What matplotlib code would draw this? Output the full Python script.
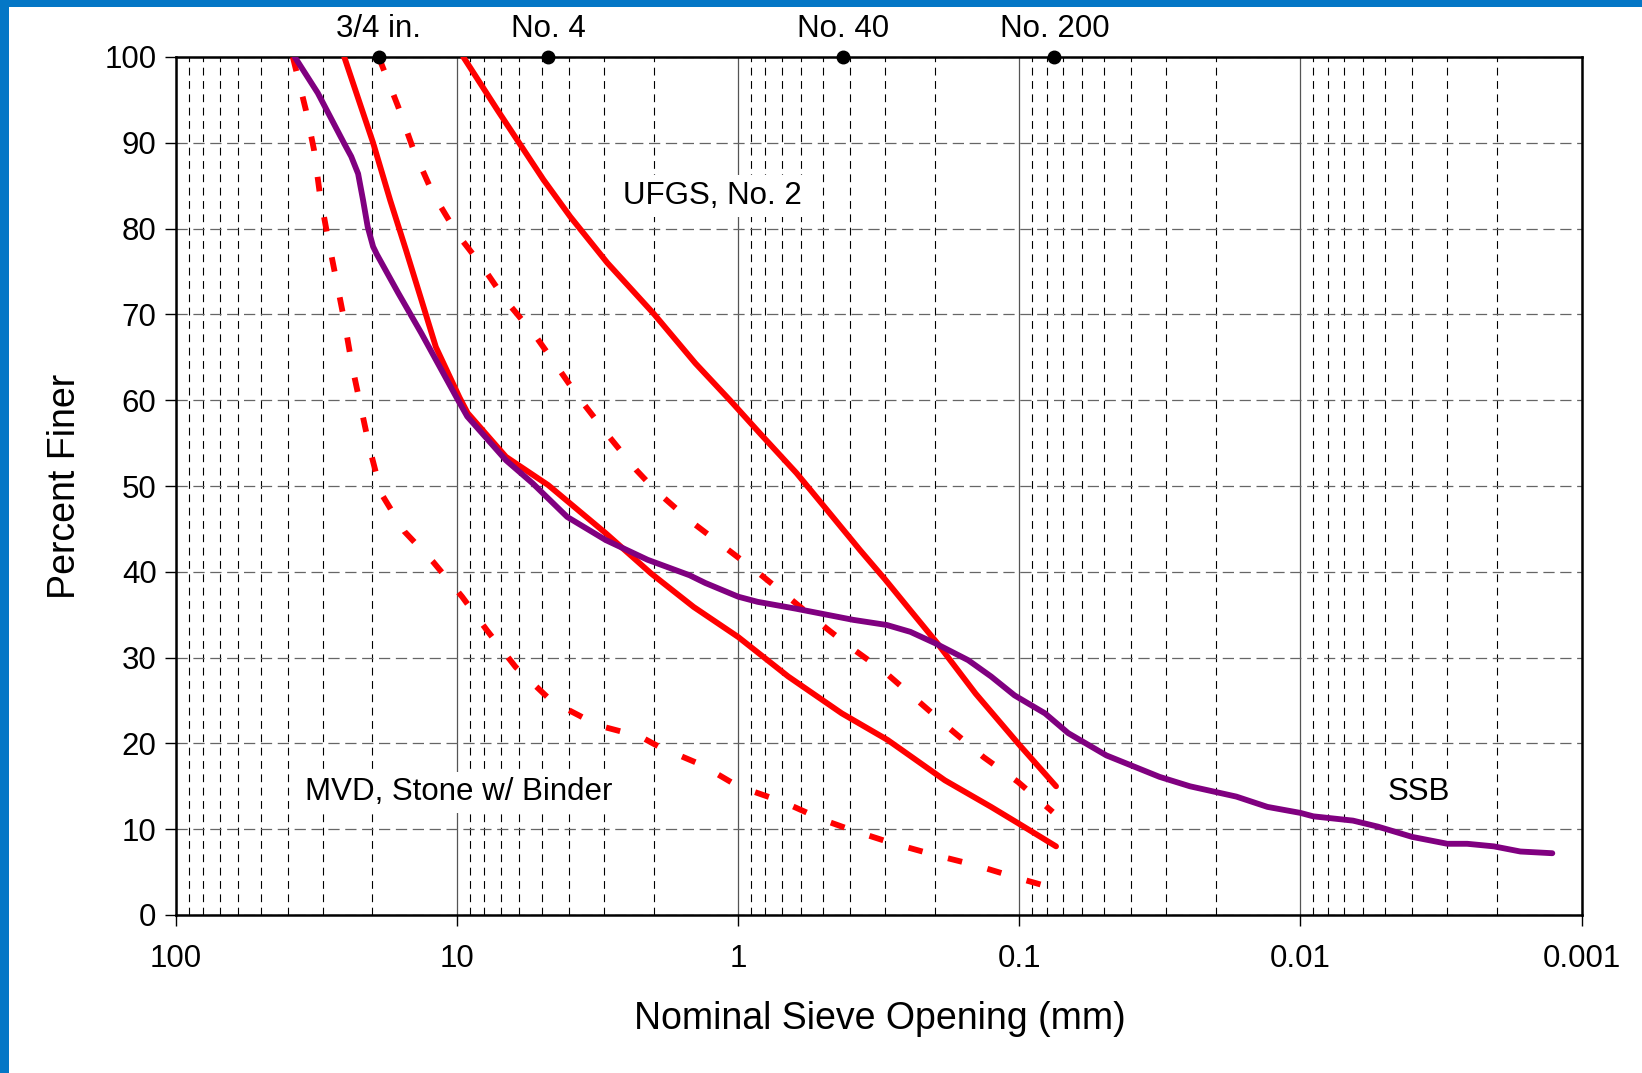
import matplotlib
matplotlib.use("Agg")
import matplotlib.pyplot as plt
from matplotlib.ticker import FixedLocator, FixedFormatter, NullFormatter
from matplotlib.patches import Rectangle

plt.rcParams['font.family'] = ['Liberation Sans', 'DejaVu Sans']

# ---------------- data ----------------
ssb_size = [37.8, 31.3, 25.2, 23.8, 22.5, 21.6, 20.8, 19.9, 19.3, 16.2, 13.4, 10.0, 9.2, 6.7, 5.38, 4.06,
            2.96, 2.1, 1.49, 1.31, 1.0, 0.853, 0.623, 0.39, 0.296, 0.244, 0.2, 0.152,
            0.126, 0.104, 0.081, 0.067, 0.049, 0.0317, 0.0247, 0.0169, 0.0131, 0.01,
            0.009, 0.0065, 0.0053, 0.0040, 0.0030, 0.00255, 0.00205, 0.00165, 0.00127]
ssb_pct = [100, 95.8, 89.9, 88.4, 86.4, 83.3, 80.2, 77.9, 77.0, 72.5, 67.8, 60.2, 58.1, 53.0, 50.3, 46.4,
           43.7, 41.4, 39.6, 38.7, 37.1, 36.5, 35.7, 34.4, 33.8, 33.0, 31.7, 29.7,
           27.8, 25.6, 23.5, 21.2, 18.6, 16.1, 15.0, 13.8, 12.6, 11.9,
           11.5, 11.0, 10.3, 9.1, 8.3, 8.3, 8.0, 7.4, 7.2]

ufgs_fine_size = [9.5, 7.18, 4.93, 3.96, 2.92, 2.0, 1.42, 1.07, 0.835, 0.62, 0.483, 0.368,
                  0.30, 0.244, 0.196, 0.143, 0.101, 0.074]
ufgs_fine_pct = [100, 93.8, 85.7, 81.4, 76.0, 70.1, 64.3, 60.0, 56.1, 51.5, 47.2, 42.5,
                 39.1, 35.5, 31.7, 25.8, 20.0, 15.0]

ufgs_coarse_size = [25.2, 19.9, 17.3, 15.2, 13.4, 11.9, 9.8, 9.17, 6.7, 4.74, 2.96, 2.04,
                    1.44, 1.0, 0.664, 0.428, 0.294, 0.184, 0.126, 0.101, 0.074]
ufgs_coarse_pct = [100, 90, 83.3, 77.5, 71.7, 66.2, 60.3, 58.5, 53.4, 50.1, 44.5, 39.8,
                   35.9, 32.4, 27.8, 23.5, 20.4, 15.7, 12.6, 10.7, 8.0]

mvd_fine_size = [19.0, 16.2, 14.3, 12.2, 10.0, 8.13, 6.74, 5.24, 4.49, 3.71, 2.87, 2.31,
                 1.97, 1.49, 1.12, 0.827, 0.644, 0.485, 0.402, 0.303, 0.232, 0.178,
                 0.134, 0.101, 0.076]
mvd_fine_pct = [100, 94.2, 89.2, 84.1, 79.4, 75.6, 71.7, 67.4, 64.3, 60.4, 55.7, 51.9,
                49.5, 46.0, 42.9, 39.6, 36.7, 33.4, 31.3, 28.4, 25.1, 21.8,
                18.4, 15.5, 12.0]

mvd_coarse_size = [38.4, 34.5, 32.3, 30.8, 29.0, 27.2, 25.2, 23.6, 22.0, 20.4, 18.6, 15.4,
                   12.2, 9.6, 7.84, 6.19, 4.6, 3.15, 2.23, 1.91, 1.35, 1.0, 0.695, 0.5,
                   0.395, 0.285, 0.2, 0.143, 0.101, 0.075]
mvd_coarse_pct = [100, 93.8, 89.2, 84.1, 79.4, 74.8, 69.3, 63.9, 59.2, 54.2, 49.1, 44.7,
                  41.2, 37.1, 33.2, 28.9, 24.9, 22.1, 20.8, 19.6, 17.5, 15.0, 13.2, 11.1,
                  9.9, 8.4, 7.0, 5.8, 4.3, 3.1]

sieve_names = ["3/4 in.", "No. 4", "No. 40", "No. 200"]
sieve_sizes = [19.0, 4.75, 0.425, 0.075]

x_ticks = [100, 10, 1, 0.1, 0.01, 0.001]
x_tick_labels = ["100", "10", "1", "0.1", "0.01", "0.001"]
y_ticks = [0, 10, 20, 30, 40, 50, 60, 70, 80, 90, 100]

# ---------------- figure ----------------
W, H = 1642, 1073
fig = plt.figure(figsize=(W / 100, H / 100), dpi=100)
fig.patch.set_facecolor("white")

# blue frame (left and top)
blue = "#0477C6"
fig.patches.append(Rectangle((0, 0), 9 / W, 1, transform=fig.transFigure,
                             facecolor=blue, edgecolor="none", zorder=0))
fig.patches.append(Rectangle((0, 1 - 7 / H), 1, 7 / H, transform=fig.transFigure,
                             facecolor=blue, edgecolor="none", zorder=0))

left, right, top, bottom = 176, 1581.5, 57, 915
ax = fig.add_axes([left / W, 1 - bottom / H, (right - left) / W, (bottom - top) / H])

ax.set_xscale("log")
ax.set_xlim(100, 0.001)
ax.set_ylim(0, 100)

# ticks
ax.xaxis.set_major_locator(FixedLocator(x_ticks))
ax.xaxis.set_major_formatter(FixedFormatter(x_tick_labels))
minor = [m * 10.0 ** e for e in range(-3, 2) for m in range(2, 10)]
ax.xaxis.set_minor_locator(FixedLocator(minor))
ax.xaxis.set_minor_formatter(NullFormatter())
ax.yaxis.set_major_locator(FixedLocator(y_ticks))

ax.tick_params(axis="x", which="major", direction="out", length=8, width=1.0,
               labelsize=22.5, pad=13, top=False)
ax.tick_params(axis="x", which="minor", length=0)
ax.tick_params(axis="y", which="major", direction="out", length=8, width=1.0,
               labelsize=22.5, pad=6, right=False)

for s in ax.spines.values():
    s.set_linewidth(1.8)
    s.set_color("black")

# grid
ax.set_axisbelow(True)
ax.grid(True, which="major", axis="x", color="#555555", lw=0.9, ls="-")
ax.grid(True, which="minor", axis="x", color="black", lw=0.8, ls=(0, (7, 5)))
ax.grid(True, which="major", axis="y", color="#666666", lw=0.9, ls=(0, (9, 4.5)))

# curves
red = "#FF0000"
lw = 4.2
ax.plot(ufgs_fine_size, ufgs_fine_pct, color=red, lw=lw, solid_capstyle="round",
        solid_joinstyle="round", zorder=3)
ax.plot(ufgs_coarse_size, ufgs_coarse_pct, color=red, lw=lw, solid_capstyle="round",
        solid_joinstyle="round", zorder=3)
ax.plot(mvd_fine_size, mvd_fine_pct, color=red, lw=lw, ls=(0, (2.5, 4.5)),
        dash_capstyle="butt", zorder=3)
ax.plot(mvd_coarse_size, mvd_coarse_pct, color=red, lw=lw, ls=(0, (2.5, 4.5)),
        dash_capstyle="butt", zorder=3)
ax.plot(ssb_size, ssb_pct, color="#800080", lw=lw, solid_capstyle="round",
        solid_joinstyle="round", zorder=4)

# sieve markers on top
ax.plot(sieve_sizes, [100] * len(sieve_sizes), "o", color="black", ms=9,
        clip_on=False, zorder=6)
for name, s in zip(sieve_names, sieve_sizes):
    ax.annotate(name, (s, 100), xytext=(0, 20), textcoords="offset points",
                ha="center", va="center", fontsize=22.5, annotation_clip=False)

# labels inside the plot
bbox = dict(facecolor="white", edgecolor="none", pad=4)
ax.text(1.23, 83.8, "UFGS, No. 2", ha="center", va="center", fontsize=22.5,
        bbox=bbox, zorder=2.5)
ax.text(9.86, 14.3, "MVD, Stone w/ Binder", ha="center", va="center", fontsize=22.5,
        bbox=bbox, zorder=2.5)
ax.text(0.0038, 14.3, "SSB", ha="center", va="center", fontsize=22.5,
        bbox=bbox, zorder=2.5)

ax.set_xlabel("Nominal Sieve Opening (mm)", fontsize=27, va="center")
ax.set_ylabel("Percent Finer", fontsize=27, va="center")
ax.xaxis.set_label_coords((880 - left) / (right - left), (bottom - 1019) / (bottom - top))
ax.yaxis.set_label_coords((65 - left) / (right - left), 0.5)

fig.savefig("out.png", dpi=100)
